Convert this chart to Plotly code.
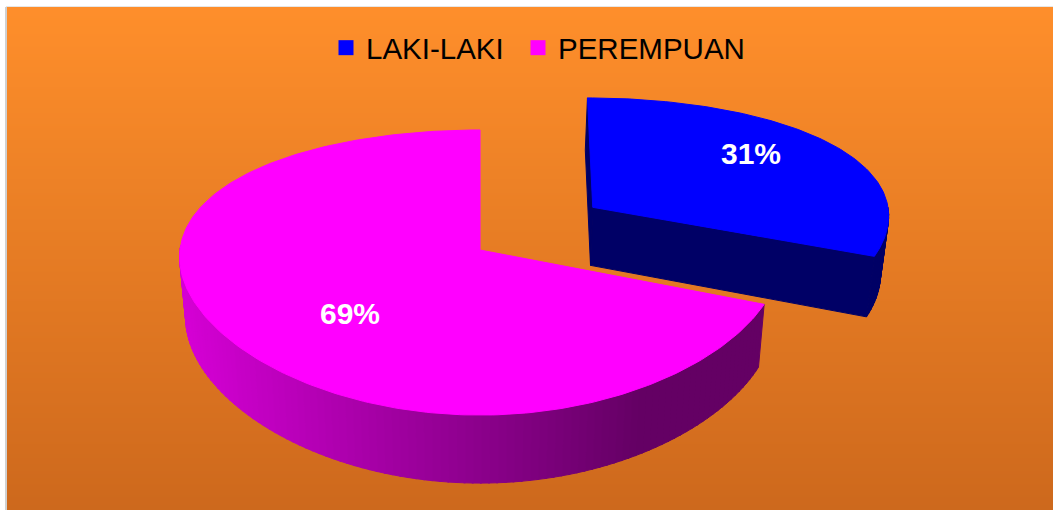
import math
import plotly.graph_objects as go

# ---------------- data ----------------
categories = ["LAKI-LAKI", "PEREMPUAN"]
values = [31, 69]

# ---------------- style ----------------
top_colors = ["#0000FF", "#FF00FF"]
side_dark = ["#000066", "#640064"]      # darkest side shade
side_light = ["#000066", "#D400D4"]     # lightest side shade (left)
pulls = [0.5, 0.0]                      # explode distance (fraction of radius)
PULL_ROT = -6.0                         # rotation of explode direction (deg)
label_rot = [-5.0, -11.0]
label_r = [0.72, 0.60]
legend_left = [326, 518]                # legend box left edges (px)

W, H = 1053, 510
# 3D projection parameters (pixels)
CX, CY = 480.0, 250.0
AX, BZ = 300.0, 139.0
KX, KZ = 0.05, 0.158
HS, KD = 60.2, 0.115
CONV = 0.02


def proj(X, Z, bottom=False):
    sx = CX + AX * X / (1 + KX * Z)
    sy = CY - BZ * Z / (1 + KZ * Z)
    if bottom:
        sy += HS / (1 + KD * Z)
        sx = CX + (sx - CX) * (1 - CONV)
    return sx, sy


def hex_to_rgb(h):
    h = h.lstrip("#")
    return tuple(int(h[i:i + 2], 16) for i in (0, 2, 4))


def lerp_color(c1, c2, t):
    a, b = hex_to_rgb(c1), hex_to_rgb(c2)
    t = max(0.0, min(1.0, t))
    return "rgb(%d,%d,%d)" % tuple(round(a[i] + (b[i] - a[i]) * t) for i in range(3))


def poly_trace(xs, ys, color):
    return go.Scatter(x=xs, y=ys, mode="lines", fill="toself", fillcolor=color,
                      line=dict(color=color, width=1), hoverinfo="skip",
                      showlegend=False)


fig = go.Figure()

# background gradient
fig.add_trace(go.Heatmap(x=[-60, 1120], y=[0, 530], z=[[0, 0], [1, 1]], zsmooth="best",
                         colorscale=[[0, "#FF8F2B"], [1, "#CB671C"]], showscale=False,
                         hoverinfo="skip"))

total = float(sum(values))
slices = []
start = 0.0
for i, v in enumerate(values):
    a0 = start
    a1 = start + v / total * 360.0
    mid = (a0 + a1) / 2
    d = math.radians(mid + PULL_ROT)
    dX, dZ = pulls[i] * math.sin(d), pulls[i] * math.cos(d)
    slices.append((a0, a1, mid, dX, dZ))
    start = a1


def pt(theta, dX, dZ, r=1.0, bottom=False):
    t = math.radians(theta)
    return proj(dX + r * math.sin(t), dZ + r * math.cos(t), bottom)


annotations = []
for i, (a0, a1, mid, dX, dZ) in enumerate(slices):
    apex_t = proj(dX, dZ)
    apex_b = proj(dX, dZ, True)
    # radial cut faces (front-facing ones)
    for ang, sign in ((a0, -1), (a1, 1)):
        nt = math.radians(ang + sign * 90)
        if math.cos(nt) < 0 or (i == 0 and ang == a0):
            rt = pt(ang, dX, dZ)
            rb = pt(ang, dX, dZ, bottom=True)
            xs = [apex_t[0], rt[0], rb[0], apex_b[0], apex_t[0]]
            ys = [apex_t[1], rt[1], rb[1], apex_b[1], apex_t[1]]
            fig.add_trace(poly_trace(xs, ys, side_dark[i]))
    # rim
    lo, hi = max(a0, 90.0), min(a1, 272.0)
    if hi > lo:
        n = max(2, int((hi - lo) / 1.5))
        for k in range(n):
            t0 = lo + (hi - lo) * k / n
            t1 = min(lo + (hi - lo) * (k + 1) / n + 0.3, hi)
            p0t, p1t = pt(t0, dX, dZ), pt(t1, dX, dZ)
            p0b, p1b = pt(t0, dX, dZ, bottom=True), pt(t1, dX, dZ, bottom=True)
            mx = (p0t[0] + p1t[0]) / 2
            col = lerp_color(side_light[i], side_dark[i], (mx - 185) / (640 - 185))
            xs = [p0t[0], p1t[0], p1b[0], p0b[0], p0t[0]]
            ys = [p0t[1], p1t[1], p1b[1], p0b[1], p0t[1]]
            fig.add_trace(poly_trace(xs, ys, col))
    # top face
    n = max(4, int((a1 - a0) / 1.0))
    xs, ys = [apex_t[0]], [apex_t[1]]
    for k in range(n + 1):
        p = pt(a0 + (a1 - a0) * k / n, dX, dZ)
        xs.append(p[0])
        ys.append(p[1])
    xs.append(apex_t[0])
    ys.append(apex_t[1])
    fig.add_trace(poly_trace(xs, ys, top_colors[i]))
    # label
    lp = pt(mid + label_rot[i], dX, dZ, r=label_r[i])
    annotations.append(dict(x=lp[0], y=lp[1], xref="x", yref="y",
                            text="<b>%d%%</b>" % round(values[i] / total * 100),
                            showarrow=False,
                            font=dict(family="Liberation Sans, Arial", size=30,
                                      color="#FFFFFF")))

# legend entries (one legend box per entry for exact placement)
legend_names = ["legend", "legend2"]
for cat, col, lg in zip(categories, top_colors, legend_names):
    fig.add_trace(go.Scatter(x=[None], y=[None], mode="markers", name=cat, legend=lg,
                             marker=dict(symbol="square", size=15, color=col,
                                         line=dict(width=0))))

legend_style = dict(orientation="h", xanchor="left", y=1 - 48 / H, yanchor="middle",
                    bgcolor="rgba(0,0,0,0)",
                    font=dict(family="Liberation Sans, Arial", size=29.5, color="#000000"),
                    itemclick=False, itemdoubleclick=False)

shapes = [
    dict(type="rect", xref="paper", yref="paper", x0=0, x1=7 / W, y0=0, y1=1,
         fillcolor="#FFFFFF", line=dict(width=0), layer="above"),
    dict(type="rect", xref="paper", yref="paper", x0=0, x1=1, y0=1 - 7 / H, y1=1,
         fillcolor="#FFFFFF", line=dict(width=0), layer="above"),
    dict(type="line", xref="paper", yref="paper", x0=6 / W, x1=6 / W, y0=0, y1=1 - 7 / H,
         line=dict(color="#D0D0D0", width=2), layer="above"),
    dict(type="line", xref="paper", yref="paper", x0=6 / W, x1=1, y0=1 - 6.5 / H,
         y1=1 - 6.5 / H, line=dict(color="#E6E6E6", width=1), layer="above"),
]

fig.update_layout(
    width=W, height=H,
    margin=dict(l=0, r=0, t=0, b=0),
    paper_bgcolor="#FFFFFF", plot_bgcolor="#FFFFFF",
    xaxis=dict(range=[0, W], visible=False, fixedrange=True),
    yaxis=dict(range=[H, 0], visible=False, fixedrange=True),
    showlegend=True,
    legend=dict(x=legend_left[0] / W, **legend_style),
    legend2=dict(x=legend_left[1] / W, **legend_style),
    annotations=annotations,
    shapes=shapes,
)

fig.write_html("out.html", config={"displayModeBar": False},
               post_script="document.body.style.margin='0';")
